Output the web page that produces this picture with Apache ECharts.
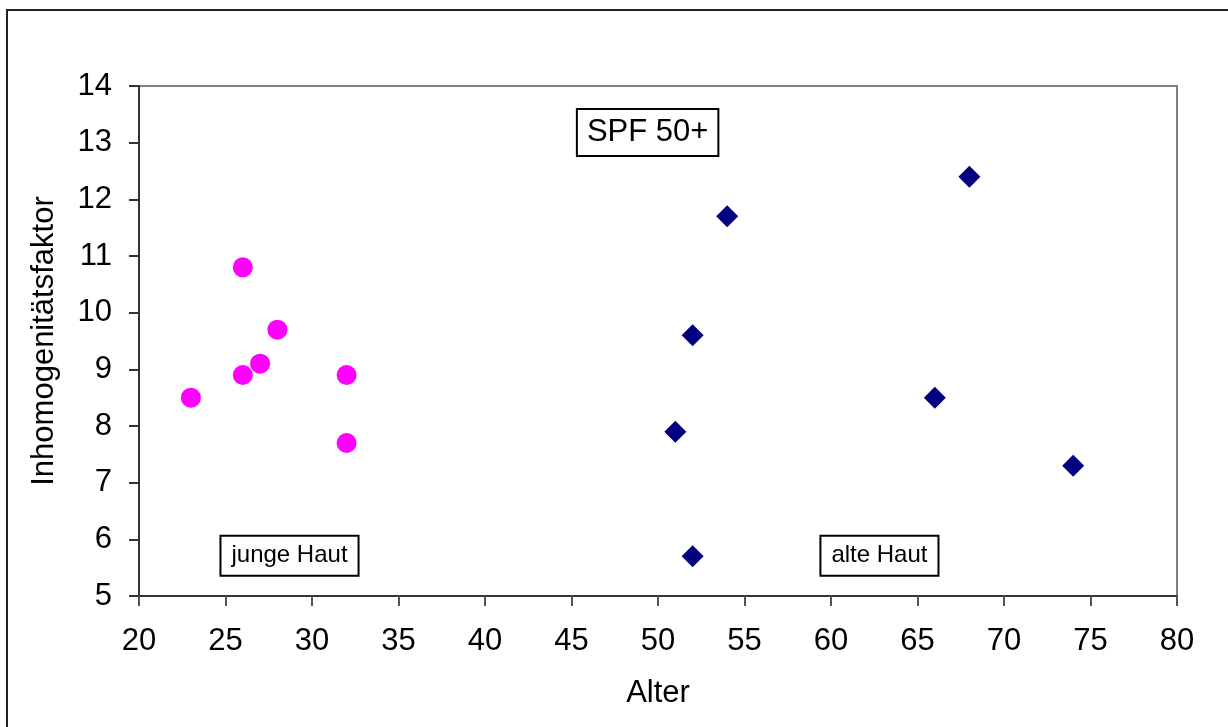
<!DOCTYPE html>
<html>
<head>
<meta charset="utf-8">
<script src="https://cdn.jsdelivr.net/npm/echarts@6/dist/echarts.min.js"></script>
<style>
  html, body { margin: 0; padding: 0; background: #fff; }
  #chart { width: 1228px; height: 727px; }
</style>
</head>
<body>
<div id="chart"></div>
<script>
// Young skin group (age, inhomogeneity factor)
const jungeAlter = [26, 28, 27, 26, 32, 23, 32];
const jungeFaktor = [10.8, 9.7, 9.1, 8.9, 8.9, 8.5, 7.7];
// Old skin group
const alteAlter = [68, 54, 52, 66, 51, 74, 52];
const alteFaktor = [12.4, 11.7, 9.6, 8.5, 7.9, 7.3, 5.7];

const xTicks = [20, 25, 30, 35, 40, 45, 50, 55, 60, 65, 70, 75, 80];
const yTicks = [5, 6, 7, 8, 9, 10, 11, 12, 13, 14];
const boxTexts = ['SPF 50+', 'junge Haut', 'alte Haut'];

const FONT = 'Liberation Sans, Arial, sans-serif';

function pairs(xs, ys) { return xs.map((x, i) => [x, ys[i]]); }

// Framed text annotation placed in data coordinates
function boxLabel(text, coord, fontSize, padding) {
  return {
    coord: coord,
    value: text,
    symbol: 'circle',
    symbolSize: 1,
    itemStyle: { color: 'rgba(0,0,0,0)' },
    label: {
      show: true, position: 'inside', formatter: text,
      color: '#000', fontSize: fontSize, lineHeight: fontSize, fontFamily: FONT,
      backgroundColor: '#fff', borderColor: '#000', borderWidth: 2,
      padding: padding
    }
  };
}

const chart = echarts.init(document.getElementById('chart'), null, { renderer: 'canvas' });
chart.setOption({
  animation: false,
  backgroundColor: '#fff',
  graphic: [{
    type: 'rect', z: -10, silent: true,
    shape: { x: 7, y: 10, width: 1240, height: 740 },
    style: { fill: 'none', stroke: '#222', lineWidth: 2 }
  }],
  grid: {
    left: 139, top: 86, right: 51, bottom: 131,
    show: true, borderColor: '#808080', borderWidth: 2, backgroundColor: '#fff'
  },
  xAxis: {
    type: 'value', min: xTicks[0], max: xTicks[xTicks.length - 1], interval: 5,
    name: 'Alter', nameLocation: 'middle', nameGap: 82,
    nameTextStyle: { fontSize: 31, color: '#000', fontFamily: FONT },
    axisLine: { show: true, onZero: false, lineStyle: { color: '#333', width: 2 } },
    axisTick: { show: true, length: 10, lineStyle: { color: '#555', width: 2 } },
    axisLabel: { fontSize: 31, color: '#000', fontFamily: FONT, margin: 30 },
    splitLine: { show: false }
  },
  yAxis: {
    type: 'value', min: yTicks[0], max: yTicks[yTicks.length - 1], interval: 1,
    name: 'Inhomogenitätsfaktor', nameLocation: 'middle', nameGap: 79,
    nameTextStyle: { fontSize: 31, color: '#000', fontFamily: FONT },
    axisLine: { show: true, onZero: false, lineStyle: { color: '#333', width: 2 } },
    axisTick: { show: true, length: 10, lineStyle: { color: '#333', width: 2 } },
    axisLabel: { fontSize: 31, color: '#000', fontFamily: FONT, margin: 27 },
    splitLine: { show: false }
  },
  series: [
    {
      name: 'junge Haut', type: 'scatter',
      data: pairs(jungeAlter, jungeFaktor),
      symbol: 'circle', symbolSize: 20,
      itemStyle: { color: '#FF00FF', opacity: 1 }
    },
    {
      name: 'alte Haut', type: 'scatter',
      data: pairs(alteAlter, alteFaktor),
      symbol: 'diamond', symbolSize: 22,
      itemStyle: { color: '#000080', opacity: 1 },
      markPoint: {
        silent: true,
        data: [
          boxLabel(boxTexts[0], [49.4, 13.18], 31, [7, 9]),
          boxLabel(boxTexts[1], [28.7, 5.71], 24, [7, 10]),
          boxLabel(boxTexts[2], [62.8, 5.71], 24, [7, 10])
        ]
      }
    }
  ]
});
</script>
</body>
</html>
